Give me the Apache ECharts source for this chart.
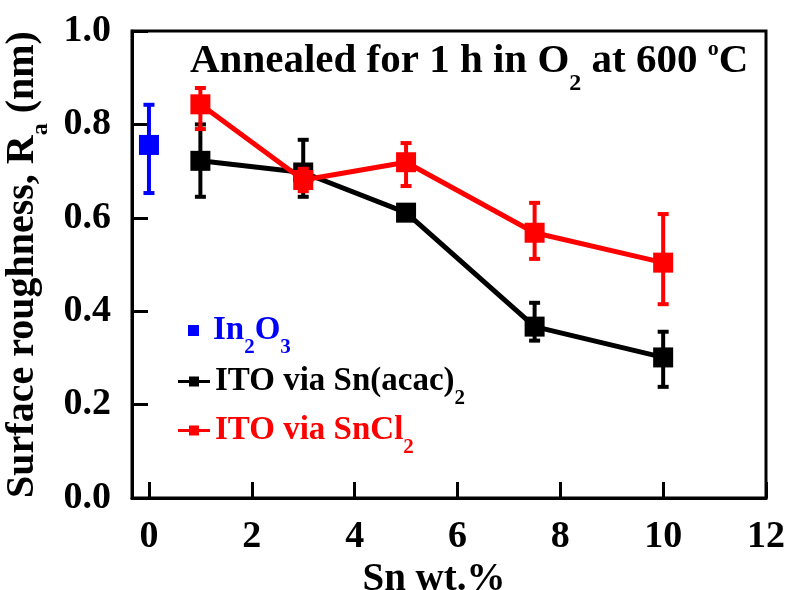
<!DOCTYPE html>
<html>
<head>
<meta charset="utf-8">
<script src="https://cdn.jsdelivr.net/npm/echarts@6/dist/echarts.min.js"></script>
<style>
html,body{margin:0;padding:0;background:#fff;}
#chart{width:788px;height:590px;}
</style>
</head>
<body>
<div id="chart"></div>
<script>
// ---- data ----
const xTicks = [0, 2, 4, 6, 8, 10, 12];
const yTicks = [0.0, 0.2, 0.4, 0.6, 0.8, 1.0];

const in2o3X = [0];
const in2o3Y = [0.756];
const in2o3Up = [0.086];
const in2o3Down = [0.103];

const snX = [1, 3, 5, 7.5, 10];

const acacY = [0.722, 0.697, 0.611, 0.367, 0.301];
const acacUp = [0.078, 0.070, 0.012, 0.051, 0.055];
const acacDown = [0.077, 0.052, 0.012, 0.030, 0.063];

const sncl2Y = [0.843, 0.681, 0.719, 0.568, 0.504];
const sncl2Up = [0.035, 0.024, 0.041, 0.064, 0.104];
const sncl2Down = [0.053, 0.024, 0.051, 0.056, 0.089];

const FONT = 'Liberation Serif';
const BLUE = '#0000FF', RED = '#FF0000', BLACK = '#000000';

function pairs(xs, ys) { return xs.map((x, i) => [x, ys[i]]); }
function errData(xs, ys, up, down) {
  return xs.map((x, i) => [x, ys[i] - down[i], ys[i] + up[i]]);
}
function errSeries(name, color, data, z) {
  return {
    type: 'custom', name: name, z: z, silent: true,
    data: data,
    encode: { x: 0, y: [1, 2] },
    renderItem: function (params, api) {
      const x = api.value(0);
      const lo = api.coord([x, api.value(1)]);
      const hi = api.coord([x, api.value(2)]);
      const cw = 5.5;
      const st = { stroke: color, lineWidth: 4, fill: null };
      return {
        type: 'group',
        children: [
          { type: 'line', shape: { x1: lo[0], y1: lo[1], x2: hi[0], y2: hi[1] }, style: st },
          { type: 'line', shape: { x1: hi[0] - cw, y1: hi[1], x2: hi[0] + cw, y2: hi[1] }, style: st },
          { type: 'line', shape: { x1: lo[0] - cw, y1: lo[1], x2: lo[0] + cw, y2: lo[1] }, style: st }
        ]
      };
    }
  };
}

const subRich = {
  sub: { fontFamily: FONT, fontWeight: 'bold', fontSize: 21, padding: [34, 0, 0, 0] },
  gap: { width: 9 }
};
const lineIcon = 'path://M0,3.5H11V0H21V3.5H32V6.5H21V10H11V6.5H0Z';

const chart = echarts.init(document.getElementById('chart'), null, { renderer: 'canvas' });
chart.setOption({
  animation: false,
  backgroundColor: '#fff',
  title: {
    text: 'Annealed for 1 h in O{sub|2} at 600 {sup|o}C',
    left: 190, top: 27, padding: 0,
    textStyle: {
      fontFamily: FONT, fontWeight: 'bold', fontSize: 41, color: BLACK,
      rich: {
        sub: { fontFamily: FONT, fontWeight: 'bold', fontSize: 24, padding: [45, 0, 0, 0] },
        sup: { fontFamily: FONT, fontWeight: 'bold', fontSize: 22, padding: [0, 0, 24, 0] }
      }
    }
  },
  grid: {
    left: 132, right: 22, top: 31, bottom: 92,
    containLabel: false, outerBoundsMode: 'none',
    show: true, borderColor: BLACK, borderWidth: 3, backgroundColor: 'transparent'
  },
  legend: [
    {
      data: ['In2O3'], left: 188, top: 314, padding: 0,
      icon: 'rect', itemWidth: 11, itemHeight: 11,
      formatter: () => '{gap|}In{sub|2}O{sub|3}',
      textStyle: { fontFamily: FONT, fontWeight: 'bold', fontSize: 33, color: BLUE, rich: subRich }
    },
    {
      data: ['ITO via Sn(acac)2'], left: 178, top: 365, padding: 0,
      icon: lineIcon, itemWidth: 32, itemHeight: 10,
      formatter: () => 'ITO via Sn(acac){sub|2}',
      textStyle: { fontFamily: FONT, fontWeight: 'bold', fontSize: 33, color: BLACK, rich: subRich }
    },
    {
      data: ['ITO via SnCl2'], left: 178, top: 414, padding: 0,
      icon: lineIcon, itemWidth: 32, itemHeight: 10,
      formatter: () => 'ITO via SnCl{sub|2}',
      textStyle: { fontFamily: FONT, fontWeight: 'bold', fontSize: 33, color: RED, rich: subRich }
    }
  ],
  xAxis: {
    type: 'value', min: -0.33, max: 12,
    name: 'Sn wt.%', nameLocation: 'middle', nameGap: 54,
    nameTextStyle: { fontFamily: FONT, fontWeight: 'bold', fontSize: 39, color: BLACK, padding: [0, 30, 0, 0] },
    axisLine: { show: true, onZero: false, lineStyle: { color: BLACK, width: 3 } },
    axisTick: { show: true, inside: true, length: 16, customValues: xTicks, lineStyle: { color: BLACK, width: 3 } },
    axisLabel: {
      customValues: xTicks, margin: 20,
      fontFamily: FONT, fontWeight: 'bold', fontSize: 38, color: BLACK,
      formatter: v => String(v)
    },
    splitLine: { show: false }
  },
  yAxis: {
    type: 'value', min: 0, max: 1, interval: 0.2,
    name: 'Surface roughness, R{sub|a} (nm)', nameLocation: 'middle', nameGap: 72, nameRotate: 90,
    nameTextStyle: {
      fontFamily: FONT, fontWeight: 'bold', fontSize: 40, color: BLACK,
      rich: { sub: { fontFamily: FONT, fontWeight: 'bold', fontSize: 24, padding: [36, 0, 0, 0] } }
    },
    axisLine: { show: true, onZero: false, lineStyle: { color: BLACK, width: 3 } },
    axisTick: { show: true, inside: true, length: 16, lineStyle: { color: BLACK, width: 3 } },
    axisLabel: {
      margin: 21, fontFamily: FONT, fontWeight: 'bold', fontSize: 38, color: BLACK,
      formatter: v => v.toFixed(1)
    },
    splitLine: { show: false }
  },
  series: [
    errSeries('errIn2O3', BLUE, errData(in2o3X, in2o3Y, in2o3Up, in2o3Down), 2),
    {
      name: 'In2O3', type: 'scatter', z: 3,
      data: pairs(in2o3X, in2o3Y), symbol: 'rect', symbolSize: 20,
      itemStyle: { color: BLUE, opacity: 1 }
    },
    errSeries('errAcac', BLACK, errData(snX, acacY, acacUp, acacDown), 4),
    {
      name: 'ITO via Sn(acac)2', type: 'line', z: 5,
      data: pairs(snX, acacY), symbol: 'rect', symbolSize: 20, showAllSymbol: true,
      lineStyle: { color: BLACK, width: 5 }, itemStyle: { color: BLACK }
    },
    errSeries('errSnCl2', RED, errData(snX, sncl2Y, sncl2Up, sncl2Down), 6),
    {
      name: 'ITO via SnCl2', type: 'line', z: 7,
      data: pairs(snX, sncl2Y), symbol: 'rect', symbolSize: 20, showAllSymbol: true,
      lineStyle: { color: RED, width: 5 }, itemStyle: { color: RED }
    }
  ]
});
</script>
</body>
</html>
